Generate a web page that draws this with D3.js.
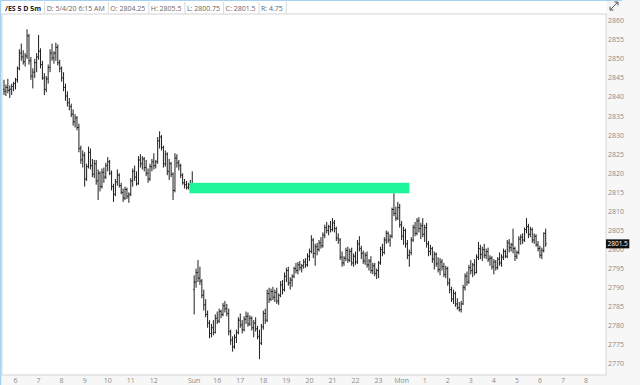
<!DOCTYPE html>
<html>
<head>
<meta charset="utf-8">
<script src="https://cdn.jsdelivr.net/npm/d3@7/dist/d3.min.js"></script>
<style>
  html, body { margin: 0; padding: 0; background: #fff; }
  svg { display: block; font-family: "Open Sans", sans-serif; }
</style>
</head>
<body>
<div id="chart"></div>
<script>
// /ES 5-minute bars, Friday 5:30 -> 13:55, then Sunday 15:00 -> Monday 6:15 (gap collapsed)
const opens = [
  2842, 2841.5, 2842.5, 2841.75, 2842, 2842.75, 2843.5, 2844.5, 2847.5, 2851.5,
  2850.5, 2849.25, 2850.75, 2856, 2849.5, 2845.5, 2846.5, 2849, 2850.5, 2852,
  2848.5, 2845, 2842, 2844.75, 2847.75, 2851.5, 2850.25, 2851.5, 2853, 2849,
  2847.5, 2845, 2842.5, 2840.25, 2838.5, 2837.5, 2835.5, 2833.5, 2834.5, 2832,
  2826.5, 2823.5, 2824.75, 2818.5, 2821.75, 2825.5, 2822, 2819.75, 2822.5, 2818,
  2820, 2816.5, 2820.25, 2819, 2822, 2823, 2820, 2816.5, 2814.5, 2817.75,
  2819.5, 2816.75, 2815, 2813.5, 2815.75, 2814, 2814.5, 2818, 2820.5, 2819,
  2817.25, 2823.5, 2822.5, 2823.75, 2821.5, 2820, 2818.5, 2821.75, 2823, 2822,
  2823, 2828.5, 2829.5, 2826.75, 2822.5, 2825, 2820.5, 2822.5, 2819.75, 2815.5,
  2824, 2822.75, 2822, 2819.5, 2817.5, 2817, 2816.25, 2817, 2816.5,
  2789.5, 2791.5, 2794, 2792.5, 2791.75, 2788, 2785.5, 2783, 2780.75, 2778,
  2779.5, 2778.25, 2782, 2781.25, 2783.75, 2783, 2785.25, 2784.5, 2783.25, 2778.5,
  2776.25, 2774.5, 2777, 2778.25, 2781.5, 2780.25, 2779, 2781.75, 2782.5, 2780.5,
  2782, 2779.5, 2780.75, 2779.25, 2777.25, 2775.5, 2779.75, 2783.25, 2781.5, 2788.5,
  2787, 2789, 2787.5, 2788.75, 2786.5, 2788, 2790.75, 2789.5, 2793, 2794.5,
  2791.25, 2792, 2793, 2795, 2794.5, 2796, 2795.25, 2795.75, 2796.75, 2796,
  2798.25, 2799.5, 2802.5, 2799, 2800.75, 2800, 2801.75, 2801, 2803.75, 2805.75,
  2805, 2806, 2805.25, 2807, 2805.5, 2803, 2802.5, 2798, 2796.5, 2797.75,
  2799.75, 2797.25, 2799.5, 2796.5, 2798.25, 2796.75, 2801.5, 2800.25, 2799, 2797,
  2798.5, 2796, 2797, 2794.5, 2795.75, 2793.75, 2794.5, 2796.5, 2800, 2799.25,
  2802.5, 2804.25, 2802.5, 2803.5, 2810.5, 2809.5, 2808.25, 2811, 2806.5, 2803.5,
  2805, 2801.5, 2798.5, 2799.25, 2802.5, 2805.75, 2804.25, 2807.5, 2805.5, 2806.25,
  2804, 2805.75, 2801.5, 2799.5, 2800.25, 2797.5, 2798.75, 2796.25, 2794.75, 2796.75,
  2795.5, 2793.5, 2795, 2791.25, 2789.5, 2787, 2788.5, 2785.75, 2784.75, 2784.25,
  2785.75, 2790, 2793, 2791.5, 2795.25, 2794.5, 2796, 2794, 2798, 2800.25,
  2798.75, 2800, 2798.5, 2799.5, 2797.5, 2797.75, 2795.5, 2796.75, 2795.25, 2797.5,
  2796.5, 2798, 2799.5, 2798.25, 2801.75, 2800.5, 2801.25, 2800.25, 2798.25, 2799.25,
  2802.75, 2803.25, 2802.5, 2805.25, 2806, 2804, 2805.25, 2802.5, 2803.5, 2801.25,
  2800.25, 2798.5, 2799.75, 2804.25
];
const highs = [
  2844.5, 2843.25, 2844.75, 2843, 2843.5, 2844, 2845, 2848, 2852.5, 2854,
  2852.25, 2851.5, 2857.75, 2856.5, 2850.5, 2847.5, 2850, 2851.5, 2856.25, 2852.75,
  2849.5, 2846.25, 2845.5, 2848.5, 2852.5, 2854, 2852, 2854.25, 2853.75, 2849.75,
  2848, 2846.5, 2843.5, 2841.5, 2839.75, 2838.25, 2836.75, 2835.5, 2835, 2833,
  2827.25, 2826, 2825.5, 2822.5, 2827, 2826.5, 2823.75, 2823.5, 2823.5, 2821,
  2820.5, 2821.25, 2821.5, 2822.75, 2824.25, 2823.5, 2820.75, 2817.25, 2818.5, 2821,
  2820, 2817.5, 2816, 2816.5, 2816.25, 2815, 2818.75, 2821.25, 2822, 2820.5,
  2824.5, 2825, 2824.5, 2824.25, 2823.5, 2821.25, 2822.5, 2823.75, 2825.25, 2823.5,
  2829.5, 2831, 2830, 2827.25, 2826, 2825.5, 2823.75, 2823, 2820.25, 2825.25,
  2825, 2823.5, 2822.5, 2820, 2818.5, 2818, 2817.5, 2818.25, 2820.5,
  2793.25, 2795, 2797.25, 2795.5, 2792.25, 2789.5, 2787, 2784, 2781.5, 2780.5,
  2781.5, 2783, 2783.75, 2784.5, 2784.25, 2786, 2786.5, 2785.75, 2784.5, 2779,
  2777.25, 2777.75, 2779, 2782.25, 2783.25, 2781.5, 2782.5, 2783.75, 2783.5, 2782.75,
  2782.5, 2781.5, 2782.25, 2780, 2779, 2780.5, 2784, 2784.5, 2789.5, 2790,
  2789.75, 2790.25, 2789.5, 2790, 2788.5, 2791.75, 2792, 2794, 2795.25, 2795.5,
  2792.75, 2793.5, 2795.5, 2796.5, 2796.75, 2797, 2796.25, 2797.5, 2797.75, 2799,
  2800.25, 2803.75, 2803, 2801.5, 2801.75, 2802.5, 2803.25, 2804.5, 2806.5, 2807.25,
  2806.5, 2807.5, 2808.25, 2807.75, 2806, 2804.25, 2803, 2799.5, 2798.25, 2800.5,
  2800.75, 2800.25, 2800.5, 2799, 2799.5, 2802.5, 2803.5, 2801, 2799.75, 2799.25,
  2799.5, 2797.5, 2798.25, 2796.5, 2796.5, 2795, 2797, 2800.75, 2801.5, 2803.25,
  2805, 2804.75, 2804, 2811, 2814.75, 2811.25, 2812.5, 2812, 2807.5, 2806,
  2805.5, 2802.5, 2800, 2803.25, 2806.5, 2807.25, 2808.25, 2808.5, 2807, 2808.25,
  2806.5, 2807, 2802.25, 2801.25, 2800.75, 2799.5, 2799.25, 2798, 2797.75, 2797.5,
  2796.5, 2795.75, 2795.5, 2792.5, 2790.25, 2789.5, 2789, 2787.25, 2786.25, 2786.5,
  2790.75, 2793.75, 2794.25, 2796, 2797.25, 2796.5, 2797.5, 2798.75, 2802, 2801.25,
  2800.75, 2801.5, 2800.25, 2800.5, 2798.5, 2798.25, 2797.5, 2797.25, 2798, 2799.25,
  2798.75, 2800.25, 2800, 2802.5, 2802.75, 2801.75, 2805.5, 2800.75, 2799.75, 2803.5,
  2804, 2804.25, 2805.75, 2808.25, 2806.75, 2806, 2805.75, 2804.25, 2804, 2802.25,
  2801, 2800.5, 2804.5, 2805.5
];
const lows = [
  2840.5, 2840.25, 2841, 2839.75, 2840.5, 2841.5, 2842, 2843.75, 2847, 2849.5,
  2848.5, 2848, 2850, 2848.5, 2844.5, 2842.25, 2845, 2846.5, 2849.75, 2847.5,
  2844.5, 2840.5, 2841.25, 2843.5, 2846.5, 2849.5, 2848.75, 2849.5, 2848.25, 2846.5,
  2844, 2841.5, 2839, 2837.5, 2836.5, 2834.75, 2832.5, 2832, 2831.25, 2825.5,
  2822.5, 2821.5, 2816.5, 2818, 2821.25, 2821, 2819, 2818.75, 2817, 2813,
  2815.25, 2816, 2817.5, 2818.5, 2820.5, 2819.5, 2815.5, 2812.5, 2814, 2816.75,
  2816.25, 2814.5, 2812.5, 2813, 2813.25, 2812.25, 2814, 2816.5, 2818, 2816.75,
  2817, 2821.5, 2821, 2820.5, 2819.25, 2817.5, 2818, 2820.5, 2821, 2821.25,
  2822.5, 2826.5, 2826, 2821.5, 2821.75, 2819.5, 2818.25, 2819, 2813, 2815,
  2821.5, 2820.75, 2818.75, 2817, 2816, 2815.75, 2815.75, 2816, 2816.25,
  2783, 2790, 2791.5, 2790.75, 2787.25, 2784, 2782.25, 2779.5, 2776.75, 2777,
  2777.5, 2778, 2780.5, 2780.75, 2782, 2782.5, 2783.5, 2782.5, 2777.5, 2775,
  2773.25, 2774, 2775.5, 2777.75, 2779.5, 2778, 2778.5, 2780.5, 2779.75, 2780,
  2778.75, 2777, 2778.5, 2776.5, 2771.25, 2775, 2779, 2780.5, 2781, 2786,
  2786.5, 2786.75, 2786.25, 2785.75, 2785.5, 2787.5, 2788.25, 2789, 2791.5, 2790.5,
  2789.5, 2790.25, 2792.5, 2793.75, 2793.5, 2794.5, 2794, 2795, 2795.25, 2795.5,
  2797, 2799, 2797.75, 2795.75, 2798.5, 2799.5, 2800.25, 2800.5, 2803, 2804.25,
  2803.75, 2804.5, 2804.75, 2804.5, 2802.25, 2801.5, 2797.25, 2795.5, 2795.75, 2797,
  2796.5, 2796.75, 2795.75, 2795.5, 2796, 2796.25, 2799.5, 2797.5, 2796.25, 2796,
  2795.25, 2794.5, 2793.75, 2793.5, 2793, 2792.25, 2792.5, 2796, 2798.25, 2798.75,
  2801.5, 2801.75, 2800.75, 2803, 2808.75, 2807.5, 2807.75, 2805.75, 2802.5, 2801.25,
  2800.5, 2797.5, 2795.5, 2798.5, 2802, 2803.5, 2803.75, 2804.5, 2802.75, 2803.25,
  2802, 2800.5, 2798.25, 2798.5, 2796.5, 2794.75, 2795.5, 2794, 2793.25, 2794.5,
  2792.75, 2792.5, 2790.5, 2788.5, 2786.25, 2785.75, 2785, 2784.25, 2783.75, 2783.5,
  2785.5, 2789.25, 2790.5, 2791, 2793.5, 2792.75, 2793.25, 2793.75, 2797.25, 2797.5,
  2797, 2797.75, 2797.5, 2796.75, 2795.75, 2794.75, 2793.5, 2794.5, 2794.75, 2795.75,
  2795.5, 2797.25, 2797.75, 2797.75, 2799.25, 2799.5, 2799, 2797, 2797.5, 2798.75,
  2801.25, 2801.5, 2802, 2804.25, 2803, 2803.25, 2801.75, 2801.5, 2800.75, 2799.5,
  2797.75, 2797.5, 2799.25, 2800.75
];
const closes = [
  2841.5, 2842.5, 2841.75, 2842, 2842.75, 2843.5, 2844.5, 2847.5, 2851.5, 2850.5,
  2849.25, 2850.75, 2856, 2849.5, 2845.5, 2846.5, 2849, 2850.5, 2852, 2848.5,
  2845, 2842, 2844.75, 2847.75, 2851.5, 2850.25, 2851.5, 2853, 2849, 2847.5,
  2845, 2842.5, 2840.25, 2838.5, 2837.5, 2835.5, 2833.5, 2834.5, 2832, 2826.5,
  2823.5, 2824.75, 2818.5, 2821.75, 2825.5, 2822, 2819.75, 2822.5, 2818, 2820,
  2816.5, 2820.25, 2819, 2822, 2823, 2820, 2816.5, 2814.5, 2817.75, 2819.5,
  2816.75, 2815, 2813.5, 2815.75, 2814, 2814.5, 2818, 2820.5, 2819, 2817.25,
  2823.5, 2822.5, 2823.75, 2821.5, 2820, 2818.5, 2821.75, 2823, 2822, 2823,
  2828.5, 2829.5, 2826.75, 2822.5, 2825, 2820.5, 2822.5, 2819.75, 2815.5, 2824,
  2822.75, 2822, 2819.5, 2817.5, 2817, 2816.25, 2817, 2816.5, 2817.25,
  2791.5, 2794, 2792.5, 2791.75, 2788, 2785.5, 2783, 2780.75, 2778, 2779.5,
  2778.25, 2782, 2781.25, 2783.75, 2783, 2785.25, 2784.5, 2783.25, 2778.5, 2776.25,
  2774.5, 2777, 2778.25, 2781.5, 2780.25, 2779, 2781.75, 2782.5, 2780.5, 2782,
  2779.5, 2780.75, 2779.25, 2777.25, 2775.5, 2779.75, 2783.25, 2781.5, 2788.5, 2787,
  2789, 2787.5, 2788.75, 2786.5, 2788, 2790.75, 2789.5, 2793, 2794.5, 2791.25,
  2792, 2793, 2795, 2794.5, 2796, 2795.25, 2795.75, 2796.75, 2796, 2798.25,
  2799.5, 2802.5, 2799, 2800.75, 2800, 2801.75, 2801, 2803.75, 2805.75, 2805,
  2806, 2805.25, 2807, 2805.5, 2803, 2802.5, 2798, 2796.5, 2797.75, 2799.75,
  2797.25, 2799.5, 2796.5, 2798.25, 2796.75, 2801.5, 2800.25, 2799, 2797, 2798.5,
  2796, 2797, 2794.5, 2795.75, 2793.75, 2794.5, 2796.5, 2800, 2799.25, 2802.5,
  2804.25, 2802.5, 2803.5, 2810.5, 2809.5, 2808.25, 2811, 2806.5, 2803.5, 2805,
  2801.5, 2798.5, 2799.25, 2802.5, 2805.75, 2804.25, 2807.5, 2805.5, 2806.25, 2804,
  2805.75, 2801.5, 2799.5, 2800.25, 2797.5, 2798.75, 2796.25, 2794.75, 2796.75, 2795.5,
  2793.5, 2795, 2791.25, 2789.5, 2787, 2788.5, 2785.75, 2784.75, 2784.25, 2785.75,
  2790, 2793, 2791.5, 2795.25, 2794.5, 2796, 2794, 2798, 2800.25, 2798.75,
  2800, 2798.5, 2799.5, 2797.5, 2797.75, 2795.5, 2796.75, 2795.25, 2797.5, 2796.5,
  2798, 2799.5, 2798.25, 2801.75, 2800.5, 2801.25, 2800.25, 2798.25, 2799.25, 2802.75,
  2803.25, 2802.5, 2805.25, 2806, 2804, 2805.25, 2802.5, 2803.5, 2801.25, 2800.25,
  2798.5, 2799.75, 2804.25, 2801.5
];

// hour ticks (bar index -> label)
const tickIndex = [6, 18, 30, 42, 54, 66, 78, 99, 111, 123, 135, 147, 159, 171, 183, 195, 207, 219, 231, 243, 255, 267, 279, 291, 303];
const tickLabels = ["6", "7", "8", "9", "10", "11", "12", "Sun", "16", "17", "18", "19", "20", "21", "22", "23", "Mon", "1", "2", "3", "4", "5", "6", "7", "8"];
const priceTicks = d3.range(2770, 2861, 5);

// weekend gap zone (bar index span, price span)
const gapZone = { from: 96.5, to: 211, top: 2817.5, bottom: 2814.75 };

const headerCells = ["/ES 5 D 5m", "D: 5/4/20 6:15 AM", "O: 2804.25", "H: 2805.5", "L: 2800.75", "C: 2801.5", "R: 4.75"];

const W = 640, H = 385;
const plot = { left: 2, right: 606, top: 14, bottom: 375 };

const svg = d3.select("#chart").append("svg")
    .attr("width", W)
    .attr("height", H);

// backgrounds
svg.append("rect").attr("width", W).attr("height", H).attr("fill", "#f7f7f7");
svg.append("rect").attr("width", plot.right).attr("height", plot.top).attr("fill", "#fff");
svg.append("rect")
    .attr("x", plot.left).attr("y", plot.top)
    .attr("width", plot.right - plot.left).attr("height", plot.bottom - plot.top)
    .attr("fill", "#fff")
    .attr("stroke", "#d4d4d4")
    .attr("stroke-width", 1);

// outer blue frame
svg.append("line").attr("x1", 0.5).attr("x2", 0.5).attr("y1", 0).attr("y2", H)
    .attr("stroke", "#a6d2ef").attr("stroke-width", 1.5);
svg.append("line").attr("x1", 0).attr("x2", 622).attr("y1", 0.5).attr("y2", 0.5)
    .attr("stroke", "#a6d2ef").attr("stroke-width", 1);

const x = d3.scaleLinear().domain([0, 282]).range([4, 545.7]);
const y = d3.scaleLinear().domain([2770, 2860]).range([364, 20.7]);

const bars = opens.map((o, i) => ({ i, o, h: highs[i], l: lows[i], c: closes[i] }));

const g = svg.append("g");

// OHLC bars
g.selectAll(".bar")
    .data(bars)
    .enter().append("path")
    .attr("class", "bar")
    .attr("d", d => {
        const cx = x(d.i);
        return `M${cx},${y(d.h)}V${y(d.l)}M${cx - 1},${y(d.o)}H${cx}M${cx},${y(d.c)}H${cx + 1}`;
    })
    .attr("fill", "none")
    .attr("stroke", "#1e1e1e")
    .attr("stroke-width", 1);

// weekend gap box
g.append("rect")
    .attr("x", x(gapZone.from))
    .attr("y", y(gapZone.top))
    .attr("width", x(gapZone.to) - x(gapZone.from))
    .attr("height", y(gapZone.bottom) - y(gapZone.top))
    .attr("fill", "#1ef59b");

// price axis (right)
const yAxis = svg.append("g");
yAxis.selectAll("text")
    .data(priceTicks)
    .enter().append("text")
    .attr("x", 608)
    .attr("y", d => y(d))
    .attr("dy", "0.35em")
    .attr("font-size", 7)
    .attr("fill", "#8c8c8c")
    .text(d => d);

// last price tag
const last = closes[closes.length - 1];
const tag = svg.append("g").attr("transform", `translate(606,${y(last)})`);
const tagText = tag.append("text")
    .attr("x", 1.5)
    .attr("dy", "0.35em")
    .attr("font-size", 6.5)
    .attr("fill", "#fff")
    .text(last);
const tw = tagText.node().getComputedTextLength();
tag.insert("rect", "text")
    .attr("x", 0).attr("y", -4.5)
    .attr("width", tw + 3).attr("height", 9)
    .attr("fill", "#111");

// time axis (bottom)
svg.append("g").selectAll("text")
    .data(tickIndex)
    .enter().append("text")
    .attr("x", d => x(d))
    .attr("y", 382.5)
    .attr("text-anchor", "middle")
    .attr("font-size", 7)
    .attr("fill", "#8c8c8c")
    .text((d, k) => tickLabels[k]);

// header strip with OHLC readout
const header = svg.append("g");
let hx = 2.5;
headerCells.forEach((label, k) => {
    const t = header.append("text")
        .attr("x", hx + 2.5)
        .attr("y", 10.5)
        .attr("font-size", 7)
        .attr("font-weight", k === 0 ? 700 : 400)
        .attr("fill", k === 0 ? "#222" : "#666")
        .text(label);
    const w = t.node().getComputedTextLength();
    hx += w + 5.5;
    header.append("line")
        .attr("x1", hx + 0.5).attr("x2", hx + 0.5)
        .attr("y1", 2).attr("y2", plot.top)
        .attr("stroke", "#d8d8d8");
});

// expand icon, top right
svg.append("path")
    .attr("d", "M610,10L618,2M614.5,2H618V5.5M610,6.5V10H613.5")
    .attr("fill", "none")
    .attr("stroke", "#555")
    .attr("stroke-width", 1);
</script>
</body>
</html>
